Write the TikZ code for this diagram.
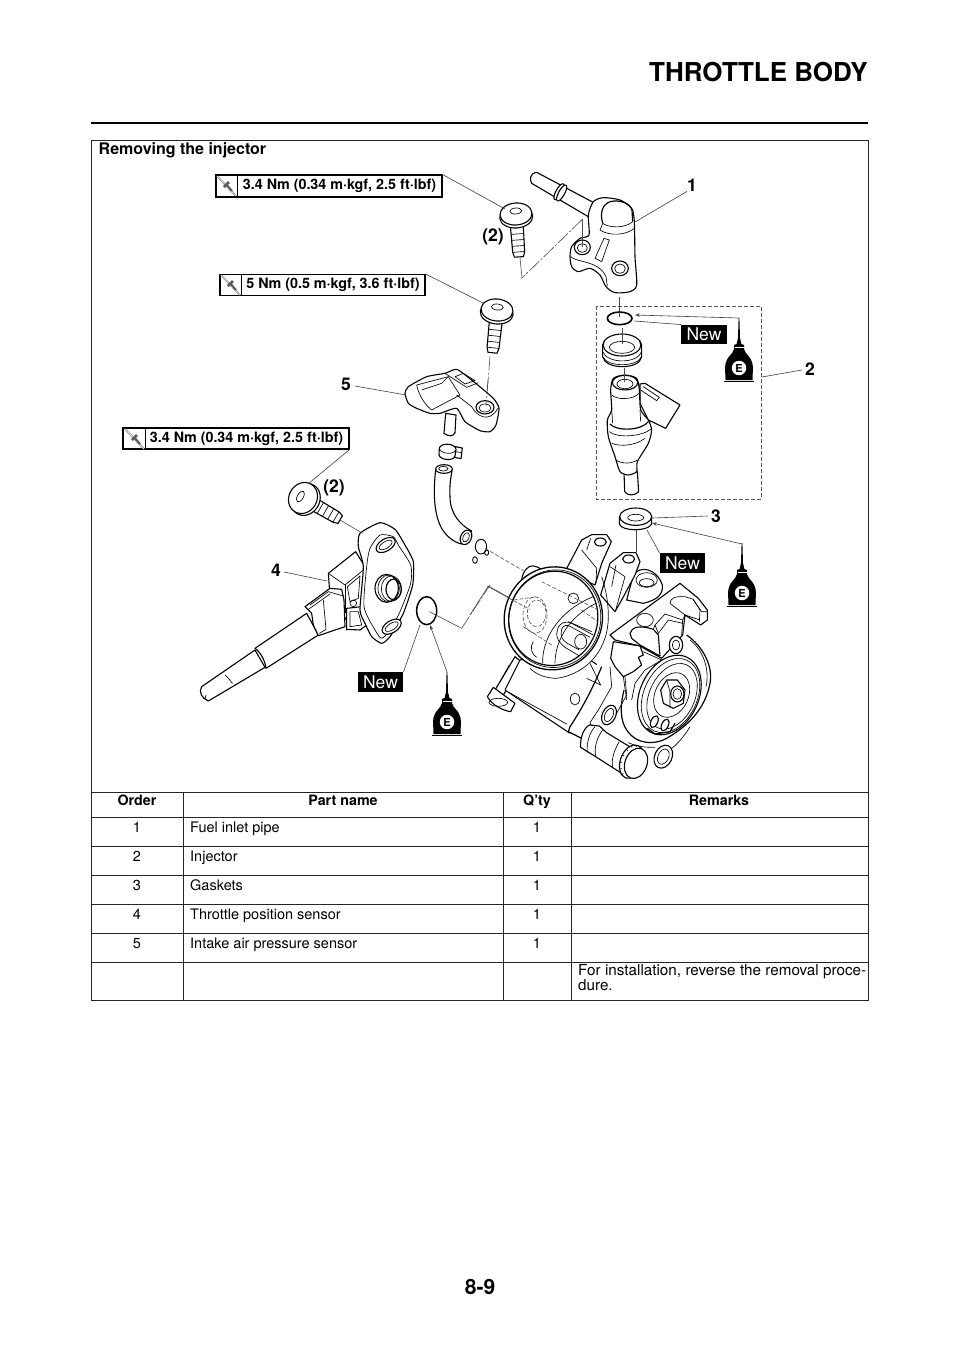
\documentclass[tikz,border=0pt]{standalone}
\usepackage{fontspec}
\setmainfont{TeX Gyre Heros}
\usetikzlibrary{arrows.meta,calc}
\tikzset{
  x=1pt,y=-1pt,
  pt/.style={draw=black,fill=white,line width=1.1pt,line join=round},
  ln/.style={draw=black,line width=0.65pt,line join=round},
  thk/.style={draw=black,line width=1.2pt,line join=round},
  leader/.style={draw=black!75,line width=0.6pt},
  axisl/.style={draw=black!70,line width=0.6pt},
  dd/.style={draw=black!70,line width=0.6pt,dash pattern=on 4pt off 2pt},
  dc/.style={draw=black!70,line width=0.6pt,dash pattern=on 14pt off 2pt on 2pt off 2pt},
  tbl/.style={draw=black!85,line width=0.8pt},
  tqbox/.style={draw=black,line width=1.1pt,fill=white,inner sep=0pt,font=\fontsize{14.3}{15}\selectfont\bfseries,text height=10pt,text depth=3pt},
  newl/.style={fill=black,text=white,inner sep=0pt,minimum width=45.5pt,minimum height=19.5pt,font=\fontsize{17.5}{19}\selectfont},
  callout/.style={font=\fontsize{17.5}{18}\selectfont\bfseries,inner sep=0pt},
  cell/.style={font=\fontsize{14.5}{16}\selectfont,inner sep=0pt,anchor=base},
  lcell/.style={font=\fontsize{14.5}{16}\selectfont,inner sep=0pt,anchor=base west},
  hcell/.style={font=\fontsize{14.3}{16}\selectfont\bfseries,inner sep=0pt,anchor=base},
  za/.style={shift={(200,160)},scale=0.33333},
  zb/.style={shift={(520,160)},scale=0.33333},
  zc/.style={shift={(470,500)},scale=0.33333},
  zd/.style={shift={(190,470)},scale=0.33333},
  zg/.style={shift={(400,400)},scale=0.33333},
  ze/.style={shift={(590,570)},scale=0.33333},
  zf/.style={shift={(560,660)},scale=0.33333},
  zh/.style={shift={(480,560)},scale=0.33333},
}
\newcommand{\tqicon}[2]{%
  \begin{scope}[shift={(#1,#2)}]
    \draw[black!55,line width=1.6pt] (1,1) -- (20,21);
    \draw[white,line width=0.5pt] (1,1) -- (20,21);
    \draw[black!65,line width=2.6pt] (8,12) -- (13,7);
    \draw[black!65,line width=2pt] (10,9) -- (16,16);
  \end{scope}}
\newcommand{\oilbottle}[3]{%
  \begin{scope}[shift={(#1,#2)}]
    \fill[black] (-0.4,-50) -- (0.4,-50) -- (1,-30) -- (2.4,-24) -- (5,-23) -- (5,-19)
      .. controls (6,-13) and (13.5,-12) .. (14,0) .. controls (14,6) and (13,9) .. (13.5,12)
      -- (-13.5,12) .. controls (-13,9) and (-14,6) .. (-14,0) .. controls (-13.5,-12) and (-6,-13) .. (-5,-19)
      -- (-5,-23) -- (-2.4,-24) -- (-1,-30) -- cycle;
    \draw[white,line width=0.6pt] (-4.5,-20.5) -- (4.5,-20.5);
    \draw[black,line width=1pt] (-15,13) -- (15,13);
    \node[circle,fill=white,inner sep=0pt,minimum size=14.5pt,font=\fontsize{11}{11}\selectfont\bfseries] (#3) at (0,0) {E};
  \end{scope}}
\newcommand{\bolt}[4][11]{%
  \begin{scope}[shift={(#2,#3)},rotate=#4]
    \draw[pt] (-6.5,8) -- (-6,38) -- (-4.5,43) -- (4.5,43) -- (6,38) -- (6.5,8) -- cycle;
    \draw[ln] (-6.3,20) -- (6.3,20) (-6.2,26) -- (6.2,26) (-6.1,32) -- (6.1,32) (-6,38) -- (6,38);
    \draw[pt] (0,3) ellipse [x radius=16.5,y radius=#1];
    \draw[pt] (0,0) ellipse [x radius=16,y radius=#1];
    \draw[ln] (0,-3) ellipse [x radius=6,y radius=3];
  \end{scope}}
\begin{document}
\begin{tikzpicture}
\useasboundingbox (0,0) rectangle (960,1358);
\fill[white] (0,0) rectangle (960,1358);

% header
\node[anchor=base east,inner sep=0pt,font=\fontsize{26}{28}\selectfont\bfseries] (title) at (868,81) {THROTTLE BODY};
\draw[black,line width=2.4pt] (91,123) -- (868,123);
\node[inner sep=0pt,font=\fontsize{21}{23}\selectfont\bfseries] (page) at (480,1287) {8-9};

% frame and table
\draw[tbl] (91,140) rectangle (868,1000);
\draw[tbl] (91,792) -- (868,792) (91,817) -- (868,817) (91,846) -- (868,846) (91,875) -- (868,875)
  (91,904) -- (868,904) (91,933) -- (868,933) (91,962) -- (868,962);
\draw[tbl] (183,792) -- (183,1000) (503,792) -- (503,1000) (571,792) -- (571,1000);
\node[anchor=base west,inner sep=0pt,font=\fontsize{16}{17}\selectfont\bfseries] (ttl) at (98.5,154) {Removing the injector};
\node[hcell] (h1) at (137,805.5) {Order};
\node[hcell] (h2) at (343,805.5) {Part name};
\node[hcell] (h3) at (537,805.5) {Q’ty};
\node[hcell] (h4) at (719,805.5) {Remarks};
\node[cell] (o1) at (137,832) {1};
\node[cell] (o2) at (137,861) {2};
\node[cell] (o3) at (137,890) {3};
\node[cell] (o4) at (137,919) {4};
\node[cell] (o5) at (137,948) {5};
\node[lcell] (p1) at (190,832) {Fuel inlet pipe};
\node[lcell] (p2) at (190,861) {Injector};
\node[lcell] (p3) at (190,890) {Gaskets};
\node[lcell] (p4) at (190,919) {Throttle position sensor};
\node[lcell] (p5) at (190,948) {Intake air pressure sensor};
\node[cell] (q1) at (537,832) {1};
\node[cell] (q2) at (537,861) {1};
\node[cell] (q3) at (537,890) {1};
\node[cell] (q4) at (537,919) {1};
\node[cell] (q5) at (537,948) {1};
\node[lcell,font=\fontsize{15.2}{16}\selectfont] (r6a) at (578,975) {\makebox[288pt][s]{For installation, reverse the removal proce-}};
\node[lcell,font=\fontsize{15.2}{16}\selectfont] (r6b) at (578,990) {dure.};

% dashed group box
\draw[dd,draw=black!65] (596,306) rectangle (761,499);

%% ---- centre lines behind parts
\begin{scope}[zb]
  \draw[axisl] (187,178) -- (187,262);
  \draw[dc] (187,178) -- (5,355);
  \draw[axisl] (297,410) -- (297,470);
  \draw[axisl] (307,505) -- (307,550);
  \draw[axisl] (313,625) -- (313,665);
\end{scope}
\draw[axisl] (520,258) -- (522,278);
\begin{scope}[za]
  \draw[dc] (870,590) -- (858,740);
\end{scope}

%% ---- bolts
\bolt{516}{214}{4}
\bolt{497}{310}{-6}
\bolt[14]{303}{498}{60}

%% ---- fuel pipe
\begin{scope}[zb]
  \filldraw[pt] (45,38) .. controls (33,40) and (27,58) .. (35,70) -- (205,170) -- (225,130) -- (52,38) -- cycle;
  \draw[pt,rotate around={-29:(117,95)}] (117,95) ellipse [x radius=9,y radius=27];
  \draw[pt,rotate around={-29:(125,99)}] (125,99) ellipse [x radius=9,y radius=27];
  \filldraw[pt] plot[smooth cycle,tension=0.45] coordinates {(207,225) (205,165) (220,125) (250,113) (300,120) (335,145) (343,185) (345,290) (350,375) (330,395) (285,398) (258,380) (240,345) (210,325) (175,335) (155,320) (150,290) (155,260) (180,235)};
  \draw[thk] (248,190) .. controls (240,160) and (245,135) .. (270,125) .. controls (300,118) and (330,130) .. (336,150) -- (338,185);
  \draw[ln] (248,190) .. controls (270,205) and (315,205) .. (338,185);
  \draw[ln] (240,210) .. controls (270,230) and (320,225) .. (343,205);
  \draw[ln] (240,210) -- (248,190);
  \draw[ln] (252,235) -- (268,240) -- (245,305) -- (225,295) -- cycle;
  \draw[ln] (152,290) .. controls (175,310) and (235,300) .. (258,350) -- (262,378);
  \draw[pt] (187,262) ellipse [x radius=24,y radius=22];
  \draw[ln] (187,264) ellipse [x radius=15,y radius=13];
  \draw[pt] (300,325) ellipse [x radius=25,y radius=22];
  \draw[ln] (300,326) ellipse [x radius=16,y radius=14];
  \draw[axisl] (187,205) -- (187,262);
  % oring
  \draw[black,line width=1.6pt] (299,475) ellipse [x radius=37,y radius=19];
  \draw[axisl] (297,455) -- (297,470);
  % seal cup
  \filldraw[pt] (248,555) .. controls (248,520) and (365,520) .. (365,555) -- (365,590)
    .. controls (360,630) and (255,630) .. (248,590) -- cycle;
  \draw[ln] (248,575) .. controls (262,612) and (352,612) .. (365,575);
  \draw[ln] (248,590) .. controls (262,622) and (352,622) .. (365,590);
  \draw[pt] (306,555) ellipse [x radius=57,y radius=33];
  \draw[ln] (306,562) ellipse [x radius=38,y radius=18];
  \draw[axisl] (307,510) -- (307,552);
  % injector
  \filldraw[pt] (360,672) -- (375,670) -- (480,735) -- (437,805) -- (385,780) -- (360,730) -- cycle;
  \draw[ln] (370,680) -- (418,712) -- (410,722) -- (362,690);
  \filldraw[pt] (312,935) -- (352,935) -- (356,995) .. controls (345,1008) and (322,1008) .. (314,995) -- cycle;
  \filldraw[pt] plot[smooth cycle,tension=0.4] coordinates {(272,690) (280,655) (315,645) (350,655) (358,690) (362,750) (385,780) (395,810) (385,850) (352,905) (350,935) (325,945) (300,935) (285,890) (265,830) (262,780) (275,750)};
  \draw[pt] (315,668) ellipse [x radius=38,y radius=22];
  \draw[ln] (315,672) ellipse [x radius=24,y radius=14];
  \draw[ln] (275,705) .. controls (290,720) and (340,720) .. (357,700);
  \draw[thk] (270,792) .. controls (290,815) and (365,812) .. (385,785);
  \draw[ln] (268,815) .. controls (290,835) and (365,830) .. (392,808);
  \draw[ln] (275,850) .. controls (300,860) and (345,858) .. (375,835);
  \draw[ln] (275,750) -- (278,790) (360,750) -- (362,785);
  \draw[ln] (288,900) .. controls (305,912) and (335,912) .. (352,900);
  \draw[axisl] (313,628) -- (313,665);
\end{scope}

%% ---- intake air pressure sensor
\begin{scope}[za]
  \filldraw[pt] (737,760) -- (732,820) .. controls (745,830) and (760,830) .. (765,818) -- (768,765) -- cycle;
  \filldraw[pt] plot[smooth cycle,tension=0.35] coordinates {(615,700) (625,680) (680,650) (735,640) (770,628) (815,660) (880,715) (897,745) (888,795) (870,815) (840,812) (795,785) (770,745) (720,760) (690,760) (650,745) (625,730)};
  \draw[ln] (650,675) -- (745,650) -- (770,690) -- (780,705) -- (695,750);
  \draw[ln] (650,675) .. controls (655,700) and (670,730) .. (695,750);
  \draw[ln] (665,690) -- (725,670) -- (745,650);
  \draw[ln] (735,640) -- (800,682) -- (835,668);
  \draw[ln] (765,650) -- (795,672) -- (825,662) -- (790,640) -- cycle;
  \draw[ln] (770,705) -- (815,740) .. controls (830,770) and (870,790) .. (893,745);
  \draw[pt] (855,742) ellipse [x radius=27,y radius=20];
  \draw[ln] (855,744) ellipse [x radius=18,y radius=12];
  \draw[dc] (864,660) -- (858,738);
\end{scope}

%% ---- clamp, hose, clip
\begin{scope}[zg]
  \filldraw[pt] (167,140) -- (187,144) -- (183,176) -- (163,172) -- cycle;
  \filldraw[pt] (118,145) .. controls (120,128) and (165,128) .. (168,148) -- (165,168) .. controls (160,185) and (120,180) .. (117,165) -- cycle;
  \draw[ln] (118,147) .. controls (125,162) and (160,165) .. (168,150);
  \draw[ln] (166,155) -- (185,158);
  \filldraw[pt] (107,210) .. controls (100,270) and (100,340) .. (125,385) .. controls (140,410) and (160,425) .. (183,432) -- (215,393) .. controls (180,375) and (150,340) .. (150,290) .. controls (148,260) and (152,235) .. (156,212) -- cycle;
  \draw[pt] (132,207) ellipse [x radius=25,y radius=13];
  \draw[ln] (130,206) ellipse [x radius=14,y radius=7];
  \draw[pt,rotate around={-25:(198,412)}] (198,412) ellipse [x radius=16,y radius=23];
  \draw[ln,rotate around={-25:(198,412)}] (198,412) ellipse [x radius=9,y radius=15];
  \draw[ln,line width=0.9pt] (243,440) ellipse [x radius=17,y radius=22];
  \draw[ln,line width=0.9pt] (225,480) ellipse [x radius=7,y radius=10];
  \draw[ln,line width=0.9pt] (260,458) ellipse [x radius=6,y radius=8];
\end{scope}

%% ---- throttle position sensor
\begin{scope}[zd]
  \filldraw[pt] (195,540) -- (35,650) .. controls (25,665) and (35,685) .. (55,693) -- (225,592) -- cycle;
  \draw[ln] (105,615) .. controls (118,625) and (125,640) .. (128,640);
  \draw[ln] (48,675) .. controls (42,680) and (45,688) .. (55,693);
  \filldraw[pt] (195,535) -- (350,430) -- (385,495) -- (228,595) .. controls (225,570) and (210,545) .. (195,535) -- cycle;
  \filldraw[pt] (415,310) -- (497,245) -- (525,290) -- (520,400) -- (510,430) -- (470,480) -- (470,450) -- (420,380) -- cycle;
  \filldraw[pt] (470,415) -- (515,410) -- (530,465) -- (510,480) -- (470,478) -- cycle;
  \draw[ln] (480,425) -- (505,425) -- (515,465) -- (480,470) -- cycle;
  \draw[ln] (415,310) -- (465,345) -- (520,300);
  \draw[ln] (465,345) -- (465,430);
  \draw[ln] (472,350) -- (510,318) -- (505,385) -- (480,395) -- cycle;
  \filldraw[pt] (345,410) -- (420,355) -- (455,358) -- (462,390) -- (465,470) -- (385,497) -- (370,465) -- (365,430) -- cycle;
  \draw[ln] (360,405) -- (415,365) -- (460,378);
  \draw[ln] (355,418) -- (420,372);
  \draw[ln] (400,390) -- (408,478) -- (388,490);
  \filldraw[pt] plot[smooth cycle,tension=0.35] coordinates {(510,190) (570,158) (615,178) (645,225) (670,275) (668,345) (640,430) (600,500) (575,520) (545,500) (525,460) (510,420) (520,290) (505,230)};
  \draw[ln] plot[smooth cycle,tension=0.4] coordinates {(540,235) (570,195) (610,200) (625,225) (662,285) (662,340) (630,425) (600,480) (575,505) (555,480) (522,410) (530,290)};
  \draw[pt,rotate around={32:(587,225)}] (587,225) ellipse [x radius=32,y radius=18];
  \draw[ln,rotate around={32:(587,225)}] (587,225) ellipse [x radius=22,y radius=10];
  \draw[pt,rotate around={32:(605,470)}] (605,470) ellipse [x radius=32,y radius=18];
  \draw[ln,rotate around={32:(605,470)}] (605,470) ellipse [x radius=22,y radius=10];
  \draw[pt] (590,355) ellipse [x radius=35,y radius=42];
  \draw[ln] (596,355) ellipse [x radius=32,y radius=40];
  \draw[ln] (604,356) ellipse [x radius=30,y radius=38];
  \draw[thk] (611,358) ellipse [x radius=23,y radius=31];
  \draw[ln] (490,400) circle (10);
  \draw[black,line width=1.5pt] (710,422) ellipse [x radius=30,y radius=42];
  \draw[axisl] (450,150) -- (518,190);
  \draw[axisl] (718,425) -- (815,475);
  \draw[dc] (815,475) -- (900,345);
\end{scope}

%% ---- throttle body: rear parts
\begin{scope}[zc]
  \draw[axisl] (498,90) -- (498,155);
  \filldraw[pt] (135,470) -- (75,570) -- (100,585) -- (160,490) -- cycle;
  \draw[ln] (118,495) -- (90,545);
  \filldraw[pt] (70,562) -- (52,590) .. controls (65,615) and (100,632) .. (122,635) -- (135,610) -- cycle;
  \draw[ln] (85,607) ellipse [x radius=28,y radius=12];
  % lower body
  \filldraw[pt] (150,480) -- (105,570) -- (300,700) -- (480,560) -- (300,440) -- cycle;
  \draw[ln] (118,578) -- (290,672);
  \draw[ln] (315,597) ellipse [x radius=14,y radius=18];
  % rear bosses
  \filldraw[pt] (285,215) -- (335,120) -- (365,104) -- (410,104) -- (424,125) -- (395,190) -- (375,255) -- cycle;
  \draw[ln] (335,150) -- (380,205) -- (378,250);
  \draw[ln] (362,115) -- (350,150);
  \draw[pt] (391,126) ellipse [x radius=18,y radius=12];
  \filldraw[pt] (490,225) .. controls (510,195) and (560,205) .. (577,255) .. controls (580,285) and (560,300) .. (520,310) -- (470,300) -- cycle;
  \draw[ln] (530,240) ellipse [x radius=32,y radius=22];
  \draw[ln] (530,248) ellipse [x radius=22,y radius=12];
  \filldraw[pt] (392,285) -- (420,190) -- (460,158) -- (498,158) -- (510,185) -- (495,225) -- (455,300) -- (435,335) -- cycle;
  \draw[ln] (420,200) -- (465,230) -- (437,330);
  \draw[ln] (438,195) -- (425,260);
  \draw[pt] (476,177) ellipse [x radius=18,y radius=12];
  \draw[dd] (45,145) -- (160,212);
  \draw[axisl] (0,345) -- (55,258) -- (125,297);
\end{scope}

%% ---- white mass of the right housing
\fill[white] (600,655) -- (612,640) -- (680,583) -- (708,605) -- (708,620) -- (702,627) -- (712,660) -- (708,700) -- (685,740) -- (670,750) -- (668,770) -- (650,778) -- (625,770) -- (610,785) -- (575,745) -- (568,730) -- (585,700) -- cycle;

%% ---- barrel
\begin{scope}[zh]
  \filldraw[pt] (125,72) .. controls (122,45) and (140,15) .. (160,18) .. controls (175,20) and (190,30) .. (195,38) -- (140,100) -- cycle;
  \fill[white] (385,170) .. controls (385,260) and (330,340) .. (230,355) .. controls (200,355) and (170,345) .. (150,325) -- (210,175) -- cycle;
  \draw[ln] (385,170) .. controls (385,260) and (330,340) .. (230,355) .. controls (200,355) and (170,345) .. (150,325);
  \draw[ln] (365,50) .. controls (375,80) and (385,120) .. (385,170);
  \draw[pt,rotate around={-15:(220,175)},line width=1.3pt] (220,175) ellipse [x radius=147,y radius=155];
  \draw[thk,rotate around={-15:(220,175)}] (220,175) ellipse [x radius=133,y radius=142];
  \draw[ln,rotate around={-15:(220,175)}] (224,175) ellipse [x radius=138,y radius=147];
  \begin{scope}
    \clip[rotate around={-15:(220,175)}] (220,175) ellipse [x radius=133,y radius=142];
    \draw[ln] (188,310) .. controls (185,220) and (260,130) .. (370,100);
    \draw[ln] (225,310) .. controls (225,240) and (270,160) .. (370,120);
    \draw[ln] (232,212) .. controls (235,190) and (255,180) .. (275,190) -- (340,225);
    \draw[ln] (265,185) -- (335,215);
    \draw[ln] (232,212) .. controls (225,235) and (240,250) .. (255,262) -- (310,295);
    \draw[ln] (245,208) .. controls (250,195) and (260,193) .. (272,200) -- (330,232);
    \draw[ln] (245,208) .. controls (240,225) and (245,240) .. (262,250) -- (298,270);
    \draw[ln] (302,245) ellipse [x radius=18,y radius=22];
    \draw[dd] (170,160) ellipse [x radius=28,y radius=40];
    \draw[dd] (165,165) ellipse [x radius=36,y radius=55];
    \draw[dd] (185,65) -- (395,170);
    \draw[dd] (100,120) -- (170,110) ;
    \draw[dd] (130,200) -- (215,255);
    \draw[ln] (280,115) ellipse [x radius=16,y radius=16];
    \draw[dd] (305,150) -- (360,190);
    \draw[ln] (160,245) .. controls (148,260) and (155,285) .. (170,292);
  \end{scope}
  \draw[axisl] (22,78) -- (100,122);
  \draw[dd] (100,122) -- (150,148);
\end{scope}

%% ---- side housing and cover
\begin{scope}[zc]
  \draw[thk] (650,405) .. controls (700,440) and (730,500) .. (720,550) .. controls (705,630) and (650,680) .. (590,715) .. controls (555,735) and (500,735) .. (470,690) .. controls (450,660) and (450,620) .. (462,570);
  \draw[ln] (660,420) .. controls (700,450) and (720,510) .. (708,560);
  \draw[thk] (395,500) .. controls (370,560) and (340,620) .. (300,680) -- (295,695) -- (335,715);
  \draw[ln] (420,500) -- (425,560) -- (388,625) -- (360,668) -- (365,680) -- (405,700);
  \draw[ln] (360,490) -- (392,555) -- (350,535);
  \draw[ln] (465,530) -- (470,585) -- (440,640);
\end{scope}
\begin{scope}[ze]
  \filldraw[pt] (60,195) -- (270,40) -- (325,85) -- (352,120) -- (352,150) -- (332,165) -- (285,135) -- (278,195) -- (215,265) -- (150,228) -- (75,210) -- cycle;
  \draw[ln] (240,100) .. controls (240,85) and (255,78) .. (285,80) -- (310,88) -- (330,120) -- (328,155);
  \draw[ln] (240,100) -- (285,135) -- (330,150);
  \draw[ln] (310,90) -- (335,125) -- (352,125);
  \filldraw[pt] (120,190) .. controls (125,170) and (150,165) .. (190,178) -- (205,195) -- (210,258) -- (150,225) -- (125,205) -- cycle;
  \draw[ln] (195,165) -- (225,132) -- (278,150) -- (275,195) ;
  \draw[ln] (205,190) -- (235,150) -- (278,160);
  \draw[ln] (195,165) -- (205,190);
  \draw[ln] (190,178) -- (195,165);
  \draw[ln] (165,150) ellipse [x radius=25,y radius=20];
  \draw[ln] (285,135) -- (278,150);
  \draw[pt] (258,225) ellipse [x radius=20,y radius=26];
  \draw[ln] (258,225) ellipse [x radius=11,y radius=15];
  \filldraw[pt] (70,215) -- (150,228) -- (160,255) -- (145,262) -- (155,285) -- (130,305) -- (100,320) -- (75,290) -- (62,265) -- cycle;
  \draw[ln] (160,245) -- (215,270) -- (165,300) -- (135,340) -- (125,390);
  \draw[ln] (100,320) -- (110,390);
\end{scope}
\begin{scope}[zc]
  \draw[pt,rotate around={-25:(598,585)}] (598,585) ellipse [x radius=88,y radius=125];
  \draw[ln,rotate around={-25:(598,585)}] (602,585) ellipse [x radius=80,y radius=117];
  \draw[ln,rotate around={-25:(598,585)}] (607,585) ellipse [x radius=68,y radius=104];
  \draw[ln,rotate around={-25:(605,585)}] (605,585) ellipse [x radius=50,y radius=70];
  \filldraw[pt] (572,570) -- (590,540) -- (622,540) -- (645,570) -- (640,610) -- (610,625) -- (580,610) -- cycle;
  \draw[ln] (590,540) -- (600,575) -- (600,622);
  \draw[pt] (622,582) ellipse [x radius=20,y radius=24];
  \draw[ln] (622,582) ellipse [x radius=13,y radius=16];
\end{scope}
\begin{scope}[zf]
  \draw[thk] (262,205) -- (285,222) -- (330,215) -- (345,190);
  \filldraw[pt,rotate around={-25:(283,185)}] (283,185) ellipse [x radius=10,y radius=19];
  \filldraw[pt,rotate around={-25:(315,195)}] (315,195) ellipse [x radius=10,y radius=19];
  % ties of the lower lug to the housing
  \draw[ln] (205,248) .. controls (235,262) and (262,262) .. (285,262);
  \draw[ln] (335,265) .. controls (355,250) and (375,225) .. (390,200);
  \draw[pt,rotate around={-25:(147,165)}] (147,165) ellipse [x radius=20,y radius=31];
  \draw[ln,rotate around={-25:(147,165)}] (147,165) ellipse [x radius=12,y radius=21];
  \draw[pt,rotate around={-25:(310,290)}] (310,290) ellipse [x radius=26,y radius=36];
  \draw[ln,rotate around={-25:(310,290)}] (310,290) ellipse [x radius=16,y radius=24];
  \filldraw[pt] (88,195) .. controls (70,205) and (60,235) .. (62,262) -- (110,292) -- (185,340) -- (212,262) -- (140,218) -- (118,198) -- cycle;
  \draw[ln] (105,200) .. controls (90,215) and (78,250) .. (82,278);
  \draw[ln] (128,210) .. controls (112,230) and (100,265) .. (108,292);
  \draw[ln] (178,245) .. controls (165,265) and (152,300) .. (158,322);
  \draw[pt,rotate around={-20:(215,305)}] (215,305) ellipse [x radius=34,y radius=52];
  \foreach \a in {115,140,...,265} {
    \draw[ln,rotate around={-20:(215,305)}] ($(215,305)+(\a:27 and 46)$) -- ($(215,305)+(\a:34 and 52)$);
  }
  \draw[pt,rotate around={-20:(228,310)}] (228,310) ellipse [x radius=33,y radius=47];
\end{scope}

%% ---- gasket
\begin{scope}[zc]
  \filldraw[pt] (448,50) -- (448,72) .. controls (455,95) and (535,95) .. (545,72) -- (545,50) -- cycle;
  \draw[pt] (497,50) ellipse [x radius=48,y radius=26];
  \draw[ln] (497,53) ellipse [x radius=24,y radius=10];
\end{scope}

%% ---- torque boxes and leaders
\coordinate (t1e) at (505,209);
\coordinate (t2e) at (483,303);
\coordinate (t3m) at (308,484);
\node[tqbox,minimum width=226pt,minimum height=22pt] (t1) at (329,186) {\hspace{21pt}3.4 Nm (0.34 m·kgf, 2.5 ft·lbf)};
\node[tqbox,minimum width=205pt,minimum height=21pt] (t2) at (322.5,285) {\hspace{21pt}5 Nm (0.5 m·kgf, 3.6 ft·lbf)};
\node[tqbox,minimum width=226pt,minimum height=21pt] (t3) at (236,438.5) {\hspace{21pt}3.4 Nm (0.34 m·kgf, 2.5 ft·lbf)};
\draw[black,line width=0.8pt] (237,175) -- (237,197) (241,275) -- (241,295) (145,428) -- (145,449);
\tqicon{216}{175}
\tqicon{220}{274}
\tqicon{124}{428}
\draw[leader] (t1.north east) -- (t1e);
\draw[leader] (t2.north east) -- (t2e);
\draw[leader] (t3.south east) -- (t3m);

%% ---- callouts
\node[callout] (c1) at (692,185) {1};
\node[callout] (c2) at (810,369) {2};
\node[callout] (c3) at (716,516) {3};
\node[callout] (c4) at (276,570) {4};
\node[callout] (c5) at (346,384) {5};
\node[callout] (b1) at (493,237) {(2)};
\node[callout] (b2) at (334,488) {(2)};
\coordinate (e1) at (635,222);
\coordinate (e2) at (762,377);
\coordinate (e3) at (652,518);
\coordinate (e4) at (327,581);
\coordinate (e5) at (406,395);
\draw[leader] (c1.south west) -- (e1);
\draw[leader] (c2.west) ++(-3,1) -- (e2);
\draw[leader] (c3.west) ++(-3,0) -- (e3);
\draw[leader] (c4.east) ++(3,2) -- (e4);
\draw[leader] (c5.east) ++(4,2) -- (e5);

%% ---- New labels
\node[newl] (n1) at (704,334.5) {New};
\node[newl] (n2) at (682.5,563) {New};
\node[newl] (n3) at (380.5,682) {New};
\coordinate (ne1) at (634,321);
\coordinate (ne2) at (647,530);
\coordinate (ne3) at (420,625);
\draw[leader] (n1.north west) -- (ne1);
\draw[leader] (n2.north west) -- (ne2);
\draw[leader] (n3.north east) -- (ne3);

%% ---- oil bottles
\oilbottle{739}{368}{oa}
\oilbottle{742}{593}{ob}
\oilbottle{447}{722}{oc}
\coordinate (oat) at (739,318);
\coordinate (obt) at (742,544);
\coordinate (oct) at (447,672);
\coordinate (oae) at (635,315);
\coordinate (obe) at (652,523);
\coordinate (oce) at (430,625);
\draw[leader,-{Stealth[length=5pt,width=3.5pt]}] (oat) -- (oae);
\draw[leader,-{Stealth[length=5pt,width=3.5pt]}] (obt) -- (obe);
\draw[leader,-{Stealth[length=5pt,width=3.5pt]}] (oct) -- (oce);
\end{tikzpicture}
\end{document}
